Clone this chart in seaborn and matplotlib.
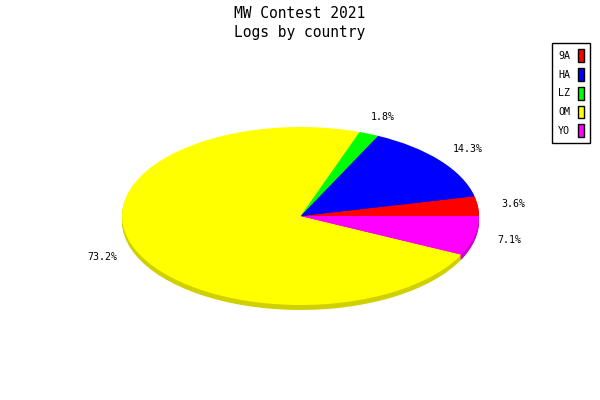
import matplotlib
matplotlib.use("Agg")
import matplotlib.pyplot as plt
from matplotlib.patches import Patch
import seaborn as sns

# logs per country
countries = ["9A", "HA", "LZ", "OM", "YO"]
logs = [2, 8, 1, 41, 4]
colors = ["#ff0000", "#0000ff", "#00ff00", "#ffff00", "#ff00ff"]
shadow_colors = ["#d00000", "#0000d0", "#00d000", "#d0d000", "#d000d0"]

sns.set_theme(style="white")
plt.rcParams["font.family"] = ["DejaVu Sans Mono"]
plt.rcParams["text.color"] = "black"

fig = plt.figure(figsize=(6, 4), dpi=100)
fig.patch.set_facecolor("white")

# axes sized to the ellipse, so the pie gets squashed
ax = fig.add_axes([122 / 600, 95 / 400, 357 / 600, 178 / 400])

# side of the "3d" pie: shifted darker copies
depth_px = 5
for k in range(depth_px, 0, -1):
    ax.pie(logs, colors=shadow_colors, startangle=0, center=(0, -k / 89),
           wedgeprops={"linewidth": 0, "clip_on": False})

ax.pie(logs, colors=colors, startangle=0, autopct="%.1f%%", pctdistance=1.2,
       wedgeprops={"linewidth": 0, "clip_on": False},
       textprops={"fontsize": 7.2, "color": "black", "clip_on": False})

ax.set_aspect("auto")
ax.set_xlim(-1, 1)
ax.set_ylim(-1, 1)
ax.set_axis_off()

fig.text(0.5, 1 - 13 / 400, "MW Contest 2021", ha="center", va="center",
         fontsize=10.5, color="black")
fig.text(0.5, 1 - 32 / 400, "Logs by country", ha="center", va="center",
         fontsize=10.5, color="black")

handles = [Patch(facecolor=c, edgecolor="black", linewidth=1) for c in colors]
leg = fig.legend(handles, countries, loc="upper right",
                 bbox_to_anchor=(590 / 600, 1 - 43 / 400),
                 markerfirst=False, fancybox=False, framealpha=1,
                 edgecolor="black", fontsize=7.2, handlelength=0.6,
                 handleheight=1.6, handletextpad=0.8, labelspacing=0.6,
                 borderpad=0.6, borderaxespad=0, labelcolor="black")
leg.get_frame().set_linewidth(1)

fig.savefig("out.png", dpi=100)
